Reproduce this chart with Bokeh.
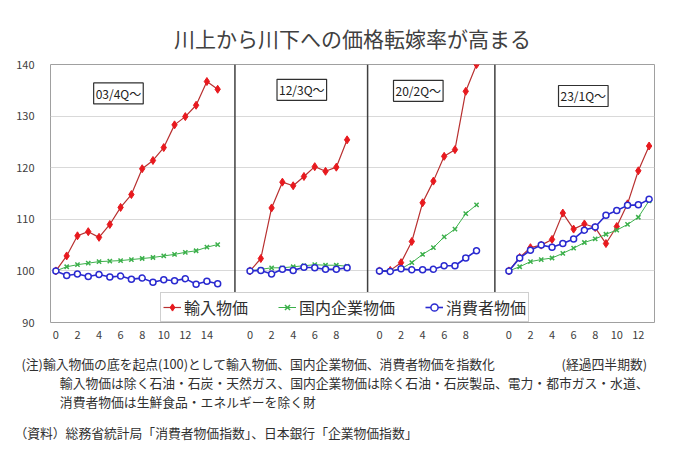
from bokeh.plotting import figure
from bokeh.models import FixedTicker, Label, Legend, LegendItem, Range1d, Title
from bokeh.embed import file_html
from bokeh.resources import INLINE

FONT = "Noto Sans CJK JP"
SP = "\u3000"  # ideographic space

title_text = "川上から川下への価格転嫁率が高まる"
series_names = ["輸入物価", "国内企業物価", "消費者物価"]
periods = ["03/4Q～", "12/3Q～", "20/2Q～", "23/1Q～"]
offsets = [0, 18, 30, 42]  # category start of each period on the shared axis

import_prices = [
    [100, 102.9, 106.8, 107.6, 106.5, 109.0, 112.3, 114.8, 119.8, 121.4, 123.9, 128.3, 129.9, 132.1, 136.7, 135.2],
    [100, 102.4, 112.2, 117.2, 116.5, 118.3, 120.2, 119.3, 120.1, 125.4],
    [100, 100.1, 101.6, 105.7, 113.2, 117.4, 122.2, 123.5, 134.8, 140.0],
    [100, 102.6, 104.5, 105.0, 106.1, 111.2, 108.1, 109.1, 108.4, 105.3, 108.6, 113.0, 119.4, 124.2],
]
corporate_prices = [
    [100, 100.8, 101.2, 101.5, 101.8, 101.9, 102.0, 102.2, 102.4, 102.6, 102.9, 103.2, 103.6, 103.9, 104.6, 105.1],
    [100, 100.3, 100.6, 100.6, 100.8, 101.0, 101.2, 101.1, 101.1, 100.9],
    [100, 100.0, 100.4, 101.6, 103.2, 104.5, 106.6, 108.1, 111.1, 112.8],
    [100, 100.8, 101.8, 102.2, 102.5, 103.4, 104.4, 105.5, 106.2, 107.1, 107.9, 109.0, 110.4, 113.6],
]
consumer_prices = [
    [100, 99.1, 99.4, 98.9, 99.3, 98.8, 99.0, 98.4, 98.6, 97.8, 98.3, 98.1, 98.5, 97.4, 98.0, 97.5],
    [100, 100.1, 99.4, 100.3, 100.1, 100.7, 100.6, 100.3, 100.3, 100.6],
    [100, 99.9, 100.4, 100.2, 100.2, 100.3, 101.0, 101.0, 102.5, 103.9],
    [100, 102.5, 104.0, 105.0, 104.6, 105.3, 106.2, 107.9, 108.5, 110.8, 111.7, 112.7, 112.8, 113.9],
]
y_ticks = [90, 100, 110, 120, 130, 140]
dividers = [16.6, 28.9, 40.7]
period_label_x = [5.8, 4.8, 3.6, 6.9]      # local quarter position of each period box
period_label_y = [134.4, 135.1, 134.9, 133.9]

note_lines = [
    "(注)輸入物価の底を起点(100)として輸入物価、国内企業物価、消費者物価を指数化",
    "輸入物価は除く石油・石炭・天然ガス、国内企業物価は除く石油・石炭製品、電力・都市ガス・水道、",
    "消費者物価は生鮮食品・エネルギーを除く財",
]
source_line = "（資料）総務省統計局「消費者物価指数」、日本銀行「企業物価指数」"
x_axis_note = "(経過四半期数)"

# block is anchored at its right edge; lines are left-aligned inside it
notes_text = "\n".join([
    note_lines[0] + SP * 5 + " " + x_axis_note,
    SP * 3 + note_lines[1],
    SP * 3 + note_lines[2],
])

p = figure(width=664, height=452, output_backend="svg", toolbar_location=None,
           x_range=Range1d(-0.5, 55.5), y_range=Range1d(90, 140),
           min_border_left=50, min_border_right=10, min_border_top=64, min_border_bottom=130)
p.outline_line_color = "#a0a0a0"
p.outline_line_width = 1
p.background_fill_color = "white"
p.border_fill_color = "white"
p.xgrid.visible = False
p.ygrid.grid_line_color = "#d9d9d9"
p.ygrid.grid_line_width = 1

p.title.text = title_text
p.title.align = "center"
p.title.text_font = FONT
p.title.text_font_size = "21px"
p.title.text_font_style = "normal"
p.title.text_color = "#404040"
p.title.standoff = 24

# axes
tick_pos, tick_lab = [], {}
for off, vals in zip(offsets, import_prices):
    for t in range(0, len(vals), 2):
        tick_pos.append(off + t)
        tick_lab[off + t] = str(t)
p.xaxis.ticker = FixedTicker(ticks=tick_pos)
p.xaxis.major_label_overrides = tick_lab
p.yaxis.ticker = FixedTicker(ticks=y_ticks)
for ax in (p.xaxis, p.yaxis):
    ax.axis_line_color = None
    ax.major_tick_line_color = None
    ax.minor_tick_line_color = None
    ax.major_label_text_font = FONT
    ax.major_label_text_font_size = "11px"
    ax.major_label_text_color = "#404040"
p.xaxis.major_label_standoff = 2
p.yaxis.major_label_standoff = 10

red_line, red_mark = "#b83030", "#e8191e"
green_c = "#3cb04b"
blue_c = "#2a2ad0"

legend_renderers = []
for i, off in enumerate(offsets):
    xs_r = [off + k for k in range(len(import_prices[i]))]
    xs_g = [off + k for k in range(len(corporate_prices[i]))]
    xs_b = [off + k for k in range(len(consumer_prices[i]))]
    r1 = p.line(xs_r, import_prices[i], line_color=red_line, line_width=1.2)
    r2 = p.scatter(xs_r, import_prices[i], marker="diamond", size=8, fill_color=red_mark, line_color=red_mark)
    g1 = p.line(xs_g, corporate_prices[i], line_color=green_c, line_width=1)
    g2 = p.scatter(xs_g, corporate_prices[i], marker="x", size=6, line_color=green_c, line_width=1.5)
    b1 = p.line(xs_b, consumer_prices[i], line_color=blue_c, line_width=1.6)
    b2 = p.scatter(xs_b, consumer_prices[i], marker="circle", size=6, fill_color="white", line_color=blue_c, line_width=1.5)
    if i == 0:
        legend_renderers = [[r1, r2], [g1, g2], [b1, b2]]

p.segment(x0=dividers, y0=[95.6] * 3, x1=dividers, y1=[140] * 3, line_color="#404040", line_width=1.5)

for i, txt in enumerate(periods):
    p.add_layout(Label(x=offsets[i] + period_label_x[i], y=period_label_y[i], text=txt,
                       text_align="center", text_baseline="middle", text_font=FONT,
                       text_font_size="12px", text_color="#202020",
                       border_line_color="#303030", border_line_width=1.2,
                       background_fill_color="white", padding=2))

legend = Legend(items=[LegendItem(label=n, renderers=r) for n, r in zip(series_names, legend_renderers)],
                location=(110, 0), orientation="horizontal")
legend.label_text_font = FONT
legend.label_text_font_size = "16px"
legend.label_text_color = "#303030"
legend.glyph_width = 18
legend.label_standoff = 3
legend.spacing = 30
legend.padding = 2
legend.margin = 0
legend.border_line_color = "#a0a0a0"
legend.border_line_width = 1.5
legend.background_fill_alpha = 1
p.add_layout(legend)

# notes and source below the chart
p.add_layout(Title(text=notes_text, align="right", offset=6, standoff=20, text_font=FONT,
                   text_font_size="12.8px", text_font_style="normal", text_line_height=1.0,
                   text_color="#303030"), "below")
p.add_layout(Title(text=source_line, align="right", offset=237, standoff=0, text_font=FONT,
                   text_font_size="12.8px", text_font_style="normal", text_line_height=1.0,
                   text_color="#303030"), "below")

open("out.html", "w").write(file_html(p, INLINE))
